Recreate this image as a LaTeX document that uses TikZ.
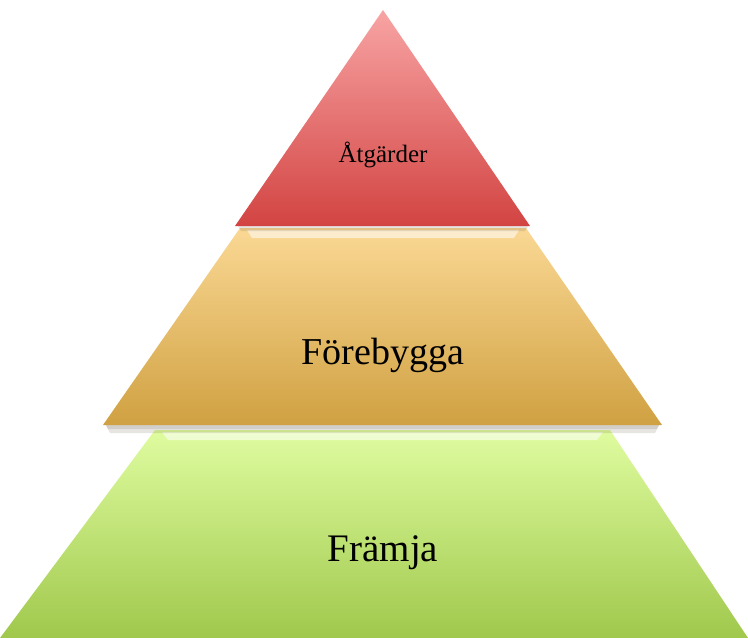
\documentclass[tikz,border=0pt]{standalone}
\usepackage{fontspec}
\setmainfont{Liberation Serif}
\definecolor{redtop}{HTML}{F8A4A4}
\definecolor{redbot}{HTML}{D24442}
\definecolor{orgtop}{HTML}{FAD894}
\definecolor{orgbot}{HTML}{D0A142}
\definecolor{grntop}{HTML}{DFFCA0}
\definecolor{grnbot}{HTML}{A0C84C}
\tikzset{
  layer/.style={draw=none},
  glow/.style={fill=white, opacity=0.55},
  shadowline/.style={fill=black!70!brown, opacity=0.12},
  label/.style={text=black, inner sep=0pt}
}
\begin{document}
\begin{tikzpicture}[x=1pt,y=-1pt]
\useasboundingbox (0,0) rectangle (748,638);
% bottom layer (green)
\shade[layer, top color=grntop, bottom color=grnbot]
  (155,430) -- (610,430) -- (748,638) -- (0,638) -- cycle;
\fill[glow] (162,432) -- (603,432) -- (597,440) -- (168,440) -- cycle;
% shadow under orange layer
\fill[shadowline] (106,425) -- (659,425) -- (655,433) -- (110,433) -- cycle;
\fill[shadowline] (106,425) -- (659,425) -- (657,429) -- (108,429) -- cycle;
% middle layer (orange)
\shade[layer, top color=orgtop, bottom color=orgbot]
  (240,228) -- (526,228) -- (662,425) -- (103,425) -- cycle;
\fill[glow] (247,230) -- (519,230) -- (514,238) -- (252,238) -- cycle;
% shadow under red layer
\fill[shadowline] (238,226) -- (528,226) -- (525,231) -- (241,231) -- cycle;
% top layer (red)
\shade[layer, top color=redtop, bottom color=redbot]
  (383,10) -- (530,226) -- (235,226) -- cycle;
% labels
\node[label, font=\fontsize{25}{30}\selectfont] (atg) at (383,155) {Åtgärder};
\node[label, font=\fontsize{38}{44}\selectfont] (forb) at (383,355) {Förebygga};
\node[label, font=\fontsize{39}{45}\selectfont] (framja) at (383,553) {Främja};
\end{tikzpicture}
\end{document}
